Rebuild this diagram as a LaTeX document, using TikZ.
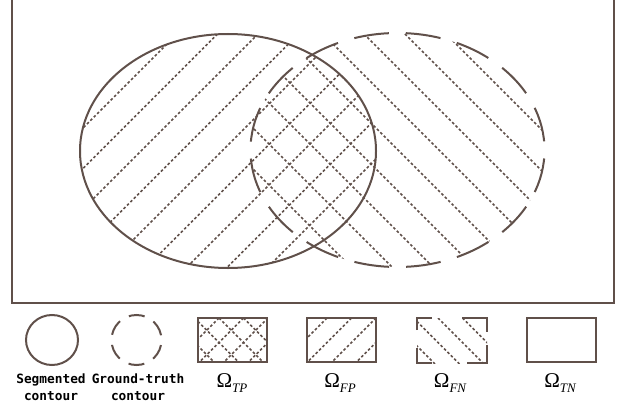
\documentclass[tikz,border=0pt]{standalone}
\usepackage{fontspec}
\usepackage{tikz}
\newfontfamily\legendfont{DejaVu Sans Mono}
\newfontfamily\omfont{Liberation Serif}
\definecolor{ink}{RGB}{96,80,74}
\newcommand{\regionlabel}[1]{{\omfont\fontsize{21}{24}\selectfont\symbol{"03A9}\raisebox{-4.5pt}{\fontsize{13}{14}\selectfont\itshape #1}}}

\begin{document}
\begin{tikzpicture}[x=1pt, y=-1pt,
        contour/.style   = {draw=ink, line width=2pt},
        gtcontour/.style = {draw=ink, line width=2pt, dash pattern=on 35pt off 17pt, dash phase=43.5pt},
        hatch/.style     = {draw=ink, line width=1.6pt, dash pattern=on 2.6pt off 2.2pt},
        legbox/.style    = {rectangle, draw=ink, line width=2pt, minimum width=69pt, minimum height=44pt, inner sep=0pt},
        capt/.style      = {font=\legendfont\bfseries\fontsize{12.8}{17}\selectfont, text=black, align=center, inner sep=0pt},
        omega/.style     = {text=black, inner sep=0pt}
    ]
    \useasboundingbox (0,0) rectangle (628,409);

    % --- IMAGE FRAME ---
    \draw[contour] (11.5,-10) rectangle (613.5,302.5);

    % --- SEGMENTED REGION: / hatch ---
    \begin{scope}
        \clip (228,151) ellipse [x radius=148, y radius=117];
        \foreach \k in {0,...,8}
            \draw[hatch] ({211+40.5*\k},0) -- ({211+40.5*\k-300},300);
    \end{scope}

    % --- GROUND-TRUTH REGION: \ hatch ---
    \begin{scope}
        \clip (397.5,150) ellipse [x radius=147, y radius=117];
        \foreach \k in {0,...,8}
            \draw[hatch] ({84+41*\k},0) -- ({84+41*\k+300},300);
    \end{scope}

    % --- CONTOURS ---
    \draw[contour]   (228,151) ellipse [x radius=148, y radius=117];
    \draw[gtcontour] (397.5,150) ellipse [x radius=147, y radius=117];

    % --- LEGEND: contours ---
    \draw[contour] (52,340) ellipse [x radius=26, y radius=25];
    \draw[contour, dash pattern=on 16pt off 10.2pt, dash phase=21.1pt] (136.5,340) circle [radius=25];

    \node[capt] (segcap) at (51,387.5) {Segmented\\contour};
    \node[capt] (gtcap)  at (138,387.5) {Ground-truth\\contour};

    % --- LEGEND: regions ---
    \begin{scope}
        \clip (198,318) rectangle (267,362);
        \foreach \c in {-28,-3.5,21,45.5,70,94.5}
            \draw[hatch] ({198+\c},318) -- ({198+\c-60},378)
                         ({198+\c},318) -- ({198+\c+60},378);
    \end{scope}
    \node[legbox] (tpbox) at (232.5,340) {};

    \begin{scope}
        \clip (306,318) rectangle (376,362);
        \foreach \c in {21,45.5,70,94.5}
            \draw[hatch] ({306+\c},318) -- ({306+\c-60},378);
    \end{scope}
    \node[legbox] (fpbox) at (341,340) {};

    \begin{scope}
        \clip (417,318) rectangle (487,363);
        \foreach \c in {-28,-3.5,21,45.5}
            \draw[hatch] ({417+\c},318) -- ({417+\c+60},378);
    \end{scope}
    % FN box: corners only
    \draw[contour] (417,330) -- (417,318) -- (432,318);
    \draw[contour] (462,318) -- (487,318) -- (487,332);
    \draw[contour] (487,345) -- (487,363) -- (467,363);
    \draw[contour] (432,363) -- (417,363) -- (417,348);

    \node[legbox] (tnbox) at (561,340) {};

    \node[omega] (tplab) at (232,383) {\regionlabel{TP}};
    \node[omega] (fplab) at (340,383) {\regionlabel{FP}};
    \node[omega] (fnlab) at (450,383) {\regionlabel{FN}};
    \node[omega] (tnlab) at (560,383) {\regionlabel{TN}};

\end{tikzpicture}
\end{document}
